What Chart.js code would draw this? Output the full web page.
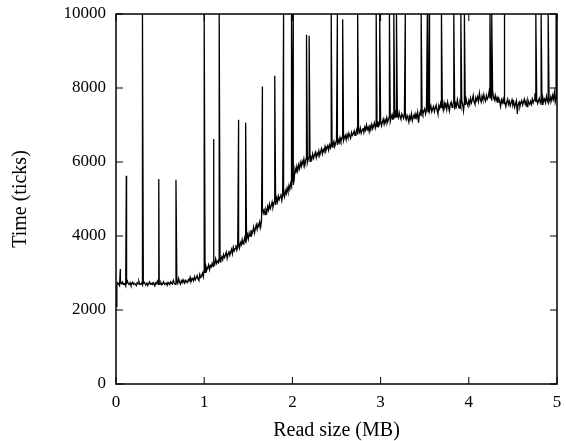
<!DOCTYPE html>
<html>
<head>
<meta charset="utf-8">
<script src="https://cdn.jsdelivr.net/npm/chart.js@4.4.1/dist/chart.umd.min.js"></script>
<style>
  html, body { margin: 0; padding: 0; background: #fff; }
  #wrap { width: 566px; height: 441px; }
</style>
</head>
<body>
<div id="wrap"><canvas id="readChart"></canvas></div>
<script>
// read size step of the base curve (MB)
const STEP = 0.01;

// base curve, one value per STEP from 0 to 5 MB (ticks), one row per 0.1 MB
const baseTimes = [
  2100, 2680, 2740, 2700, 2660, 2730, 2710, 2760, 2690, 2720,
  2700, 2650, 2730, 2780, 2700, 2690, 2740, 2670, 2710, 2750,
  2690, 2720, 2700, 2660, 2740, 2710, 2770, 2690, 2700, 2730,
  2680, 2720, 2750, 2700, 2690, 2730, 2660, 2710, 2760, 2700,
  2720, 2690, 2740, 2700, 2650, 2730, 2710, 2780, 2690, 2720,
  2700, 2740, 2680, 2720, 2760, 2690, 2710, 2730, 2670, 2750,
  2710, 2690, 2760, 2720, 2700, 2800, 2730, 2690, 2750, 2780,
  2720, 2850, 2760, 2700, 2790, 2740, 2820, 2760, 2730, 2800,
  2770, 2740, 2820, 2790, 2880, 2760, 2810, 2850, 2790, 2900,
  2820, 2870, 2930, 2840, 2800, 2960, 2880, 2920, 3000, 2900,
  3100, 3020, 3180, 3080, 3140, 3220, 3090, 3200, 3160, 3260,
  3180, 3300, 3240, 3380, 3260, 3320, 3280, 3420, 3300, 3380,
  3440, 3360, 3500, 3420, 3480, 3560, 3400, 3520, 3600, 3480,
  3560, 3640, 3520, 3700, 3600, 3660, 3760, 3620, 3700, 3800,
  3680, 3820, 3760, 3900, 3780, 3860, 3960, 3820, 3920, 4040,
  3920, 4080, 4000, 4160, 4040, 4120, 4240, 4080, 4200, 4300,
  4180, 4320, 4260, 4380, 4240, 4420, 4760, 4620, 4700, 4580,
  4720, 4640, 4800, 4700, 4860, 4740, 4820, 4920, 4780, 4880,
  4960, 4840, 5020, 4920, 5080, 4980, 5060, 5140, 4960, 5100,
  5160, 5060, 5220, 5140, 5300, 5200, 5360, 5260, 5420, 5340,
  5460, 5380, 5520, 5820, 5700, 5880, 5760, 5920, 5820, 5980,
  5880, 6020, 5940, 6080, 5900, 6040, 6120, 5980, 6080, 6160,
  6020, 6140, 6080, 6220, 6100, 6180, 6260, 6120, 6240, 6180,
  6300, 6180, 6280, 6360, 6220, 6340, 6280, 6420, 6300, 6380,
  6440, 6320, 6460, 6380, 6520, 6400, 6480, 6560, 6420, 6520,
  6580, 6460, 6600, 6520, 6660, 6560, 6620, 6700, 6580, 6660,
  6720, 6600, 6740, 6660, 6780, 6700, 6640, 6800, 6720, 6760,
  6840, 6720, 6800, 6880, 6740, 6860, 6800, 6920, 6780, 6860,
  6920, 6800, 6940, 6860, 7000, 6880, 6940, 6820, 6980, 6920,
  7020, 6900, 6980, 7060, 6920, 7040, 6960, 7100, 6980, 7040,
  7120, 6980, 7080, 7160, 7020, 7140, 7060, 7200, 7080, 7160,
  7240, 7100, 7200, 7280, 7140, 7260, 7180, 7320, 7200, 7280,
  7200, 7340, 7220, 7160, 7300, 7240, 7180, 7320, 7220, 7140,
  7260, 7180, 7080, 7240, 7160, 7300, 7120, 7220, 7280, 7160,
  7300, 7200, 7340, 7060, 7280, 7360, 7240, 7400, 7300, 7380,
  7440, 7300, 7400, 7480, 7340, 7460, 7380, 7520, 7360, 7440,
  7500, 7360, 7460, 7540, 7400, 7300, 7520, 7440, 7580, 7460,
  7520, 7400, 7600, 7480, 7560, 7420, 7620, 7500, 7380, 7560,
  7620, 7480, 7560, 7640, 7420, 7580, 7500, 7680, 7540, 7460,
  7600, 7500, 7660, 7560, 7380, 7620, 7540, 7700, 7580, 7520,
  7660, 7560, 7720, 7600, 7680, 7800, 7620, 7560, 7740, 7660,
  7760, 7640, 7860, 7700, 7620, 7780, 7680, 7820, 7700, 7640,
  7800, 7700, 7760, 7900, 7720, 7820, 7660, 7940, 7740, 7680,
  7800, 7660, 7740, 7600, 7720, 7640, 7500, 7680, 7600, 7700,
  7580, 7660, 7500, 7620, 7700, 7560, 7640, 7520, 7600, 7680,
  7540, 7620, 7480, 7580, 7660, 7300, 7560, 7620, 7500, 7600,
  7660, 7540, 7620, 7700, 7560, 7640, 7500, 7680, 7600, 7560,
  7640, 7560, 7700, 7600, 7680, 7860, 7620, 7700, 7580, 7660,
  7720, 7600, 7680, 7560, 7740, 7640, 7700, 7600, 7780, 7660,
  7600, 7720, 7640, 7760, 7660, 7800, 7700, 7880, 7620, 7740,
  7680
];

// outlier spikes: read size (MB) and time (ticks)
const spikeSizes = [
  0.049, 0.117, 0.30, 0.485, 0.68, 1.00, 1.106, 1.17, 1.39, 1.47,
  1.66, 1.80, 1.90, 1.99, 2.01, 2.16, 2.19, 2.44, 2.51, 2.57,
  2.74, 2.95, 2.99, 3.10, 3.15, 3.18, 3.28, 3.46, 3.53, 3.55,
  3.69, 3.83, 3.91, 3.95, 4.24, 4.26, 4.40, 4.76, 4.82, 4.90, 4.99
];
const spikeTimes = [
  3110, 5630, 10000, 5540, 5520, 10000, 6620, 10000, 7140, 7060,
  8040, 8330, 10000, 10000, 10000, 9440, 9410, 10000, 10000, 9860,
  10000, 10000, 10000, 10000, 10000, 10000, 10000, 10000, 10000, 10000,
  10000, 10000, 10000, 10000, 10000, 10000, 10000, 10000, 10000, 10000, 10000
];

const xTicks = [0, 1, 2, 3, 4, 5];
const yTicks = [0, 2000, 4000, 6000, 8000, 10000];

const TICK_LEN = 7;

const points = baseTimes.map((t, i) => ({ x: i * STEP, y: t }))
  .concat(spikeSizes.map((s, i) => ({ x: s, y: spikeTimes[i] })))
  .sort((a, b) => a.x - b.x);

// gnuplot-like frame with inward ticks on all four sides
const frameTicks = {
  id: 'frameTicks',
  afterDatasetsDraw(chart) {
    const { ctx, chartArea: a, scales: { x, y } } = chart;
    ctx.save();
    ctx.strokeStyle = '#000';
    ctx.lineWidth = 1;
    ctx.beginPath();
    xTicks.forEach(v => {
      const px = x.getPixelForValue(v);
      ctx.moveTo(px, a.bottom);
      ctx.lineTo(px, a.bottom - TICK_LEN);
      ctx.moveTo(px, a.top);
      ctx.lineTo(px, a.top + TICK_LEN);
    });
    yTicks.forEach(v => {
      const py = y.getPixelForValue(v);
      ctx.moveTo(a.left, py);
      ctx.lineTo(a.left + TICK_LEN, py);
      ctx.moveTo(a.right, py);
      ctx.lineTo(a.right - TICK_LEN, py);
    });
    ctx.stroke();
    ctx.lineWidth = 1.5;
    ctx.strokeRect(a.left, a.top, a.right - a.left, a.bottom - a.top);
    ctx.restore();
  }
};

Chart.defaults.font.family = "'Liberation Serif', 'Times New Roman', serif";
Chart.defaults.color = '#000';

new Chart(document.getElementById('readChart'), {
  type: 'line',
  data: {
    datasets: [{
      data: points,
      borderColor: '#000',
      borderWidth: 1.3,
      pointRadius: 0,
      tension: 0,
      fill: false
    }]
  },
  options: {
    responsive: true,
    maintainAspectRatio: false,
    animation: false,
    layout: { padding: { top: 14, right: 9, left: 0, bottom: 0 } },
    plugins: {
      legend: { display: false },
      tooltip: { enabled: false }
    },
    scales: {
      x: {
        type: 'linear',
        min: 0,
        max: 5,
        afterBuildTicks: scale => { scale.ticks = xTicks.map(v => ({ value: v })); },
        afterFit: scale => {
          scale.height = 57;
          scale.paddingLeft = 0;
          scale.paddingRight = 0;
        },
        grid: { display: false, drawTicks: false },
        border: { display: false },
        ticks: { padding: 8, font: { size: 17 }, maxRotation: 0, callback: v => String(v) },
        title: {
          display: true,
          text: 'Read size (MB)',
          font: { size: 20, lineHeight: 1 },
          padding: { top: 0, bottom: 0 }
        }
      },
      y: {
        min: 0,
        max: 10000,
        afterBuildTicks: scale => { scale.ticks = yTicks.map(v => ({ value: v })); },
        afterFit: scale => {
          scale.width = 116;
          scale.paddingTop = 0;
          scale.paddingBottom = 0;
        },
        grid: { display: false, drawTicks: false },
        border: { display: false },
        ticks: { padding: 10, font: { size: 17 }, callback: v => String(v) },
        title: {
          display: true,
          text: 'Time (ticks)',
          font: { size: 20, lineHeight: 1 },
          padding: { top: 11, bottom: 0 }
        }
      }
    }
  },
  plugins: [frameTicks]
});
</script>
</body>
</html>
